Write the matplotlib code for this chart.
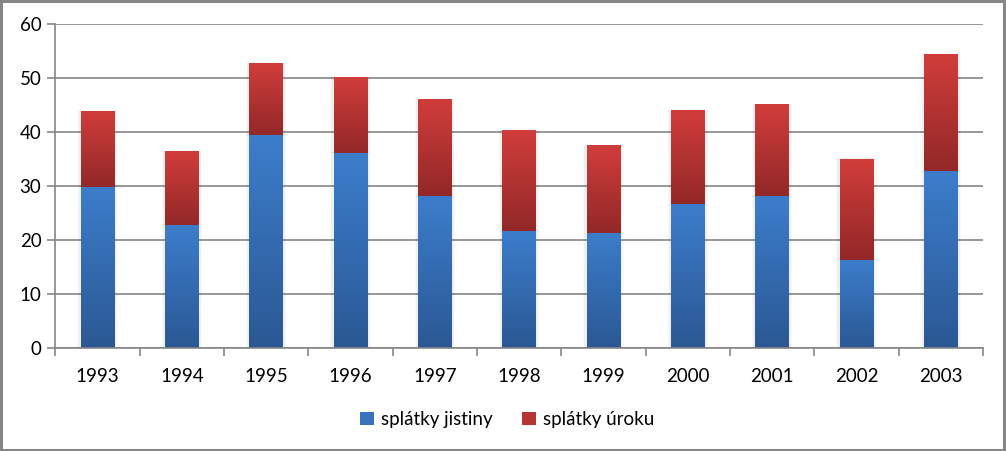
import numpy as np
import matplotlib
matplotlib.use('Agg')
import matplotlib.pyplot as plt
from matplotlib.patches import Rectangle, Patch
from matplotlib.colors import LinearSegmentedColormap

plt.rcParams['font.family'] = ['Lato', 'DejaVu Sans']

# data
years = ['1993', '1994', '1995', '1996', '1997', '1998', '1999', '2000', '2001', '2002', '2003']
jistina = [29.9, 22.8, 39.5, 36.2, 28.2, 21.7, 21.3, 26.7, 28.2, 16.4, 32.8]
celkem = [43.9, 36.5, 52.8, 50.2, 46.0, 40.4, 37.5, 44.1, 45.2, 35.1, 54.3]
urok = [round(c - j, 1) for c, j in zip(celkem, jistina)]

GRID = '#868686'
BLUE_TOP, BLUE_BOT = '#3c7dcb', '#2b5894'
RED_TOP, RED_BOT = '#d03d3b', '#932828'

fig = plt.figure(figsize=(10.06, 4.51), dpi=100)
ax = fig.add_axes([0.055, 0.2277, 0.922, 0.7183])

x = np.arange(len(years))
w = 0.40
b1 = ax.bar(x, jistina, w, color='none', edgecolor='none', label='splátky jistiny')
b2 = ax.bar(x, urok, w, bottom=jistina, color='none', edgecolor='none', label='splátky úroku')

# vertical gradient fill for each bar (top light, bottom dark)
grad = np.linspace(1, 0, 64).reshape(-1, 1)
cm_blue = LinearSegmentedColormap.from_list('b', [BLUE_BOT, BLUE_TOP])
cm_red = LinearSegmentedColormap.from_list('r', [RED_BOT, RED_TOP])
for bars, cm in [(b1, cm_blue), (b2, cm_red)]:
    for r in bars:
        x0, y0 = r.get_x(), r.get_y()
        x1, y1 = x0 + r.get_width(), y0 + r.get_height()
        # faint soft shadow
        for k, a in [(0.04, 0.025), (0.025, 0.035)]:
            ax.add_patch(Rectangle((x0 - k, y0 - 0.1), (x1 - x0) + 2 * k, (y1 - y0) + 0.2,
                                   color='black', alpha=a, lw=0, zorder=1.5))
        ax.imshow(grad, cmap=cm, extent=[x0, x1, y0, y1], aspect='auto',
                  interpolation='bicubic', zorder=2)

ax.set_xlim(-0.5, len(years) - 0.5)
ax.set_ylim(0, 60)
ax.set_yticks(range(0, 61, 10))
ax.yaxis.grid(True, color=GRID, linewidth=1.2)
ax.set_axisbelow(True)

ax.set_xticks(x)
ax.set_xticklabels(years)
ax.set_xticks(np.arange(-0.5, len(years)), minor=True)
ax.tick_params(axis='x', which='major', length=0, pad=14, labelsize=13.5)
ax.tick_params(axis='x', which='minor', length=6, color=GRID, width=1.2)
ax.tick_params(axis='y', length=6, color=GRID, width=1.2, pad=4, labelsize=13.5)

for s in ['top', 'right']:
    ax.spines[s].set_visible(False)
for s in ['left', 'bottom']:
    ax.spines[s].set_color(GRID)
    ax.spines[s].set_linewidth(1.2)

handles = [Patch(facecolor='#3772bd', edgecolor='none', label='splátky jistiny'),
           Patch(facecolor='#b83333', edgecolor='none', label='splátky úroku')]
fig.legend(handles=handles, loc='center', bbox_to_anchor=(0.504, 0.07), ncol=2,
           frameon=False, fontsize=13.5, handlelength=0.75, handleheight=0.75,
           handletextpad=0.35, columnspacing=1.6)

# outer border of the chart
fig.add_artist(Rectangle((0.001, 0.002), 0.997, 0.995, transform=fig.transFigure,
                         fill=False, edgecolor=GRID, linewidth=2.2))

fig.savefig('out.png', dpi=100)
